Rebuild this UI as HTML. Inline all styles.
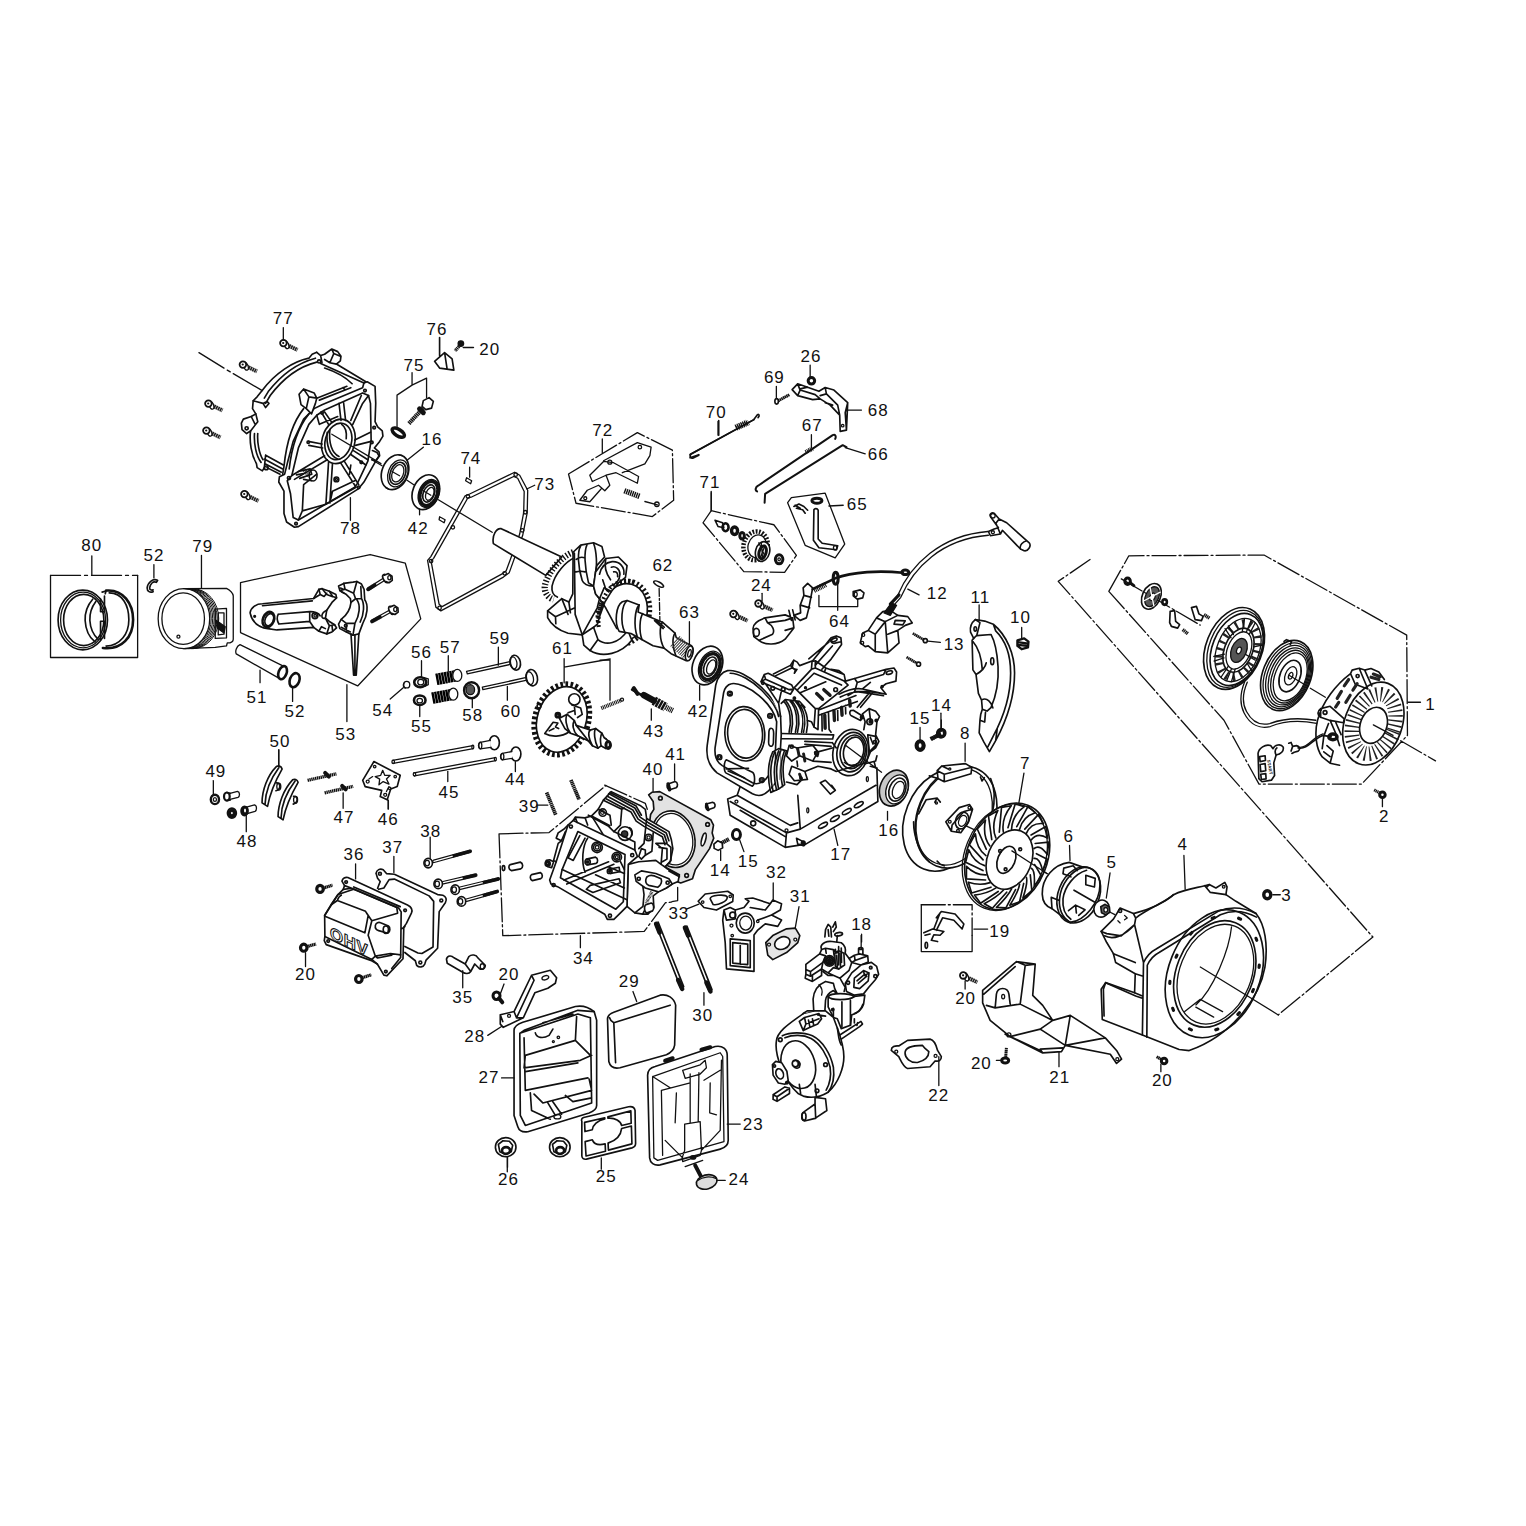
<!DOCTYPE html>
<html><head><meta charset="utf-8"><title>Engine parts diagram</title>
<style>
html,body{margin:0;padding:0;background:#fff}
body{width:1526px;height:1526px;overflow:hidden}
svg{display:block}
svg *{vector-effect:non-scaling-stroke}
.d{fill:none;stroke:#111;stroke-width:1.3;stroke-linejoin:round;stroke-linecap:round}
.d .w{fill:#fff}
.d .k{fill:#111}
.d .t{stroke-width:0.8}
.d .b{stroke-width:1.65}
.d .g{fill:#555}
.d .n{vector-effect:none}
svg{font-size:17px}
text{font-family:"Liberation Sans",sans-serif;letter-spacing:0.06em;fill:#111;stroke:none;text-anchor:middle}
</style></head><body>
<svg width="1526" height="1526" viewBox="0 0 1526 1526">
<defs>
<g id="bolt"><line x1="3" y1="1.4" x2="13.5" y2="6.4" stroke-width="4" stroke-dasharray="1.7 0.5" stroke-linecap="butt" stroke="#222"/><ellipse cx="2.2" cy="1" rx="2.2" ry="4.4" transform="rotate(-25 2.2 1)" fill="#fff" stroke-width="1.3"/><circle cx="-0.6" cy="-0.4" r="3.3" fill="#fff" stroke-width="1.8"/><circle cx="-0.8" cy="-0.5" r="1.1" fill="#111" stroke="none"/></g>

</defs>
<g class="d">
<use href="#bolt" x="284" y="343.5"/>
<use href="#bolt" x="243.5" y="365"/>
<use href="#bolt" x="209" y="404"/>
<use href="#bolt" x="207" y="431"/>
<use href="#bolt" x="245" y="494.5"/>
<g transform="translate(40,290) scale(0.25033)" style="font-size:67.91px">
<text x="972" y="135">77</text><text x="1240" y="975">78</text><text x="207" y="1043">80</text><text x="455" y="1082">52</text><text x="650" y="1048">79</text>
<path d="M972,150 L972,200 M1240,830 L1240,920"/>
<!-- axis line -->
<path d="M635,250 L735,312 M748,320 L760,327 M772,334 L888,402"/>
</g>
<g transform="translate(40,290) scale(0.25033)" style="font-size:67.91px">
<!-- rings box -->
<path d="M42,1140 L42,1468 L390,1468 L390,1140" />
<path d="M42,1140 L390,1140" stroke-dasharray="30 4 3 4"/>
<path d="M207,1062 L207,1140 M455,1097 L455,1150 M645,1060 L645,1190"/>
<!-- clip 52 -->
<path d="M470,1160 C450,1150 430,1170 428,1190 C428,1205 440,1210 452,1205 M470,1160 L465,1168 C452,1160 440,1175 438,1190 C438,1198 445,1200 452,1198" class="b"/>
<!-- piston -->
<ellipse cx="575" cy="1313" rx="103" ry="120"/><ellipse cx="572" cy="1313" rx="85" ry="103"/>
<path d="M581,1193 A103,120 0 0 1 581,1433 M587,1193 A103,120 0 0 1 587,1433 M593,1193 A103,120 0 0 1 593,1433 M599,1193 A103,120 0 0 1 599,1433 M605,1193 A103,120 0 0 1 605,1433 M611,1193 A103,120 0 0 1 611,1433" stroke-width="1"/>
<path d="M575,1193 L745,1192 C760,1200 770,1210 772,1222 L772,1395 C772,1405 760,1410 748,1410 L745,1422 L700,1428 L575,1433 M700,1275 L745,1272 L745,1390 L700,1392 Z M712,1290 L735,1290 L735,1375 L712,1378 Z"/>
<path d="M705,1320 L740,1345 L735,1370 L708,1350 Z" class="k"/>
<circle cx="553" cy="1385" r="6"/>
</g>
<g transform="translate(230,540) scale(0.25033)" style="font-size:67.91px">
<text x="108" y="650">51</text><text x="260" y="708">52</text><text x="462" y="798">53</text><text x="610" y="703">54</text><text x="765" y="765">55</text><text x="765" y="470">56</text><text x="880" y="450">57</text><text x="970" y="722">58</text><text x="1078" y="415">59</text><text x="1122" y="708">60</text><text x="1328" y="455">61</text><text x="200" y="828">50</text><text x="1140" y="980">44</text><text x="875" y="1032">45</text><text x="632" y="1138">46</text><text x="455" y="1130">47</text><text x="68" y="1228">48</text><text x="1195" y="1088">39</text><text x="802" y="1185">38</text><text x="650" y="1252">37</text><text x="495" y="1280">36</text>
<!-- con rod box -->
<path d="M42,170 L560,58 L700,92 L762,315 L510,583 L42,370 Z M467,578 L467,725"/>
<!-- pin 51 -->
<path d="M40,418 L215,505 M25,455 L195,552 M40,418 C25,425 20,445 25,455 M120,520 L120,570 M250,590 L250,645 M640,635 L692,590"/>
<ellipse cx="210" cy="530" rx="16" ry="27" transform="rotate(20 210 530)" stroke-width="2.6"/>
<ellipse cx="258" cy="560" rx="19" ry="29" transform="rotate(20 258 560)" stroke-width="2.6"/>
<!-- 54 55 56 -->
<ellipse cx="706" cy="578" rx="12" ry="13"/><path d="M695,572 C690,580 692,588 700,592"/>
<ellipse cx="760" cy="568" rx="24" ry="20" stroke-width="2.6"/><ellipse cx="762" cy="568" rx="12" ry="11"/><path d="M765,482 L765,545 M775,550 L792,555 L792,578 L778,585"/>
<ellipse cx="758" cy="640" rx="23" ry="19" stroke-width="2.6"/><ellipse cx="758" cy="642" rx="11" ry="9"/><path d="M758,662 L758,705"/>
<!-- springs 57 -->
<path d="M824,557 L905,542 M808,632 L888,617" class="n" stroke-width="46" stroke-dasharray="9.6 1.6" stroke-linecap="butt" stroke="#000"/>
<ellipse cx="908" cy="541" rx="18" ry="24" class="w"/><ellipse cx="892" cy="616" rx="18" ry="24" class="w"/>
<path d="M872,462 L872,525"/>
<!-- 58 -->
<ellipse cx="965" cy="600" rx="30" ry="32" stroke-width="2.4"/><ellipse cx="960" cy="598" rx="17" ry="20" class="g"/><path d="M968,632 L968,670"/>
<!-- valves -->
<path d="M945,525 L1118,486 M948,535 L1120,497 M945,525 L948,535 M1008,588 L1180,550 M1010,598 L1182,561 M1008,588 L1010,598 M1072,428 L1072,500 M1108,585 L1108,640" />
<ellipse cx="1140" cy="490" rx="20" ry="30" transform="rotate(-12 1140 490)" class="b"/><ellipse cx="1132" cy="491" rx="14" ry="24" transform="rotate(-12 1132 491)"/>
<ellipse cx="1206" cy="550" rx="22" ry="33" transform="rotate(-12 1206 550)" class="b"/><ellipse cx="1197" cy="552" rx="15" ry="26" transform="rotate(-12 1197 552)"/>
<!-- pushrods 45 -->
<path d="M650,880 L970,821 M652,892 L972,833 M735,930 L1060,869 M737,942 L1062,881 M870,918 L870,965 M1140,885 L1140,925" />
<ellipse cx="652" cy="886" rx="5" ry="7"/><ellipse cx="737" cy="936" rx="5" ry="7"/><ellipse cx="970" cy="827" rx="4" ry="7"/><ellipse cx="1060" cy="875" rx="4" ry="7"/>
<!-- lifters 44 -->
<ellipse cx="1056" cy="810" rx="20" ry="28" class="b"/><path d="M1040,800 L1000,808 C990,812 990,830 1000,834 L1042,828" class="w"/><ellipse cx="1000" cy="821" rx="6" ry="13"/>
<ellipse cx="1142" cy="855" rx="20" ry="28" class="b"/><path d="M1126,845 L1088,852 C1078,856 1078,874 1088,878 L1128,872" class="w"/><ellipse cx="1088" cy="865" rx="6" ry="13"/>
<!-- plate 46 -->
<path d="M575,885 L680,940 L668,985 L642,995 L628,1038 L600,1025 L606,1000 L540,985 L530,960 Z M632,1040 L632,1075" class="b"/>
<path d="M610,920 L618,940 L640,940 L625,955 L635,975 L612,965 L595,978 L598,955 L580,945 L602,940 Z M555,955 L570,945 M625,1005 L635,985"/>
<circle cx="578" cy="905" r="5"/><circle cx="660" cy="945" r="5"/><circle cx="550" cy="965" r="6"/><circle cx="620" cy="1018" r="6"/><circle cx="638" cy="992" r="5"/>
<!-- studs 47 -->
<path d="M310,960 L425,934 M378,1010 L492,984" class="n" stroke-width="13.2" stroke-dasharray="5.6 2" stroke-linecap="butt"/>
<path d="M380,930 L395,945 M448,982 L462,996" stroke-width="4"/><path d="M452,1010 L452,1072"/>
<!-- rocker arms 50 -->
<path d="M185,905 C150,940 128,1000 128,1050 L150,1064 C160,1010 182,960 208,915 C205,902 192,900 185,905 Z M195,910 C165,950 142,1005 140,1055 M250,958 C215,995 192,1055 192,1105 L212,1118 C222,1065 245,1015 272,968 C268,956 258,954 250,958 Z M260,963 C228,1005 205,1060 204,1110 M195,838 L195,905" class="b"/>
<ellipse cx="195" cy="985" rx="8" ry="14"/><ellipse cx="262" cy="1038" rx="8" ry="14"/>
<!-- 48 -->
<path d="M62,1068 L98,1058 C108,1060 108,1080 100,1084 L65,1094 M65,1100 L65,1165 M0,1012 L30,1004 C40,1006 40,1024 32,1028 L0,1036"/>
<ellipse cx="60" cy="1081" rx="9" ry="13" stroke-width="2.5"/>
<ellipse cx="8" cy="1092" rx="9" ry="12" stroke-width="2.5"/>
</g>
<g transform="translate(372,310) scale(0.25033)" style="font-size:67.91px">
<text x="260" y="98">76</text><text x="470" y="178">20</text><text x="168" y="245">75</text><text x="240" y="540">16</text><text x="395" y="617">74</text><text x="185" y="893">42</text><text x="690" y="718">73</text><text x="922" y="502">72</text><text x="1375" y="430">70</text><text x="1350" y="713">71</text><text x="1162" y="1042">62</text><text x="1268" y="1232">63</text>
<!-- 76 -->
<path d="M250,205 L290,170 L320,195 L327,240 L270,232 Z M290,170 L300,235 M270,110 L270,182 M365,150 L405,150" class="b"/>
<path d="M352,140 L332,163" class="n" stroke-width="13.6" stroke-dasharray="5.2 2" stroke-linecap="butt"/><circle cx="355" cy="134" r="11" class="k"/>
<!-- 75 -->
<path d="M160,250 L160,300 L218,272 L218,350 M160,300 L100,340 L100,465 M205,548 L140,600 M190,795 L190,818 M390,628 L390,668"/>
<path d="M208,388 L146,455" class="n" stroke-width="16.8" stroke-dasharray="5.6 2" stroke-linecap="butt"/>
<path d="M205,362 L228,350 L245,365 L238,392 L215,398 L200,385 Z" class="w b"/><path d="M190,395 L205,410" stroke-width="5"/>
<ellipse cx="105" cy="490" rx="28" ry="13" transform="rotate(32 105 490)" stroke-width="3.5"/>
<!-- axis -->
<path d="M0,598 L40,622 M80,645 L110,662 M140,680 L170,700 M205,722 L235,740 M265,758 L480,888"/>
<!-- bearing 16 -->
<g transform="rotate(22 92 648)"><ellipse cx="92" cy="648" rx="52" ry="72" class="b"/><ellipse cx="104" cy="648" rx="38" ry="56"/><ellipse cx="104" cy="648" rx="30" ry="46" class="b"/><ellipse cx="104" cy="648" rx="22" ry="36"/><path d="M80,578 L92,576 M80,718 L92,720"/></g>
<!-- bearing 42 -->
<g transform="rotate(22 215 728)"><ellipse cx="215" cy="728" rx="52" ry="72" class="b"/><ellipse cx="228" cy="728" rx="40" ry="58"/><ellipse cx="228" cy="728" rx="33" ry="50" class="n" stroke-width="14" stroke-dasharray="8.8 6"/><ellipse cx="228" cy="728" rx="22" ry="36" class="b"/><ellipse cx="232" cy="728" rx="15" ry="27"/></g>
<!-- pins 74 -->
<path d="M378,670 L398,682 L394,694 L374,682 Z M270,826 L292,838 L288,850 L268,838 Z"/>
<!-- gasket 73 -->
<path d="M570,648 L590,660 L622,720 L620,810 L602,900 L548,1050 L525,1067 L275,1202 L255,1187 L222,1000 L235,985 L372,742 L390,735 Z M566,665 L582,672 L608,725 L606,808 L590,895 L536,1042 L518,1055 L280,1185 L268,1175 L236,1003 L246,992 L382,752 L396,748 Z M618,715 L650,700" />
<circle cx="574" cy="658" r="7"/><circle cx="383" cy="745" r="7"/><circle cx="323" cy="868" r="7"/><circle cx="236" cy="1003" r="7"/><circle cx="270" cy="1190" r="7"/><circle cx="530" cy="1052" r="7"/><circle cx="600" cy="880" r="7"/><circle cx="612" cy="808" r="7"/>
<!-- 62 -->
<ellipse cx="1145" cy="1095" rx="22" ry="8" transform="rotate(28 1145 1095)" class="b"/>
<path d="M1147,1112 L1150,1240" stroke-dasharray="8 2 2 2"/><path d="M1268,1245 L1268,1340"/>
<!-- bearing right 42 -->
<g transform="rotate(22 1340 1420)"><ellipse cx="1340" cy="1420" rx="58" ry="80" class="b"/><ellipse cx="1352" cy="1420" rx="44" ry="64"/><ellipse cx="1352" cy="1420" rx="36" ry="54" class="n" stroke-width="14" stroke-dasharray="8.8 6"/><ellipse cx="1352" cy="1420" rx="24" ry="40" class="b"/><ellipse cx="1356" cy="1420" rx="16" ry="30"/></g>
<!-- box 72 -->
<path d="M785,655 L1060,490 L1200,560 L1205,760 L1120,825 L815,772 Z" stroke-dasharray="24 3 2 3"/>
<path d="M920,515 L920,570 M925,602 L1060,530 L1115,548 L1110,582 L1090,615 L1000,650 M870,660 L925,605 L965,610 L1065,665 L1060,692 L1040,682 L975,650 L935,660 L950,700 L930,722 L905,700 L860,720 L830,760 L870,766 L915,715 M870,660 L880,685 L935,660 M1090,765 L1140,778"/>
<circle cx="1070" cy="548" r="7"/><circle cx="950" cy="608" r="8"/><circle cx="852" cy="752" r="6"/><circle cx="1138" cy="776" r="9"/>
<path d="M1008,722 L1070,745" class="n" stroke-width="22" stroke-dasharray="5.6 2.8" stroke-linecap="butt"/>
<!-- 70 -->
<path d="M1526,438 L1275,575 C1265,585 1275,595 1285,590 L1305,580 M1385,442 L1385,500" class="b"/>
<path d="M1452,468 L1498,448" class="n" stroke-width="20" stroke-dasharray="4.8 3.2" stroke-linecap="butt"/>
<path d="M1355,725 L1355,800"/>
</g>
<g transform="translate(690,330) scale(0.25033)" style="font-size:67.91px">
<text x="483" y="128">26</text><text x="337" y="210">69</text><text x="752" y="343">68</text><text x="488" y="405">67</text><text x="752" y="520">66</text><text x="668" y="718">65</text><text x="285" y="1043">24</text><text x="597" y="1185">64</text><text x="988" y="1075">12</text><text x="1160" y="1090">11</text><text x="1320" y="1170">10</text><text x="1055" y="1278">13</text><text x="1005" y="1520">14</text>
<!-- 26 -->
<circle cx="485" cy="203" r="13" stroke-width="3"/><path d="M480,140 L480,188 M345,225 L345,270 M632,320 L685,320 M485,418 L485,470 M620,470 L700,495 M112,365 L112,420 M85,650 L85,722 M555,703 L612,700"/>
<!-- 69 -->
<path d="M352,283 L398,258" class="n" stroke-width="12" stroke-dasharray="6 1.5" stroke-linecap="butt"/><ellipse cx="346" cy="285" rx="7" ry="11" class="w b"/>
<!-- 68 -->
<path d="M408,238 L430,215 L515,245 L540,230 L575,240 L630,290 L625,400 L600,405 L598,340 L560,300 L520,275 L490,278 L430,262 Z M430,215 L440,240 L430,262 M440,240 L500,258 L520,275 M540,230 L545,255 L590,300 L598,340 M545,255 L520,262 M630,290 L620,330 L625,400 M440,235 L470,228 M540,290 L570,300" class="b"/>
<circle cx="610" cy="382" r="5"/>
<!-- 67 -->
<path d="M268,645 C258,640 262,628 272,622 L570,420 C580,415 585,425 580,435 M298,690 L300,655 L610,460 L625,468" stroke-width="2"/>
<path d="M462,488 L492,472" class="n" stroke-width="18" stroke-dasharray="4 3" stroke-linecap="butt"/>
<!-- 70 end -->
<path d="M0,497 L255,358 L270,338 C275,335 280,342 272,350 M0,510 L35,498" class="b"/>
<path d="M185,392 L235,370" class="n" stroke-width="20" stroke-dasharray="4.5 3" stroke-linecap="butt"/>
<!-- 71 box -->
<path d="M52,770 L85,722 L335,778 L425,900 L378,968 L215,965 Z" stroke-dasharray="24 3 2 3"/>
<path d="M100,760 L130,770 L135,790 L112,785 Z" class="b"/><ellipse cx="142" cy="788" rx="12" ry="16" stroke-width="2.6"/><ellipse cx="178" cy="802" rx="12" ry="15" stroke-width="3.4"/><ellipse cx="208" cy="822" rx="9" ry="13" stroke-width="3"/>
<ellipse cx="262" cy="862" rx="48" ry="58" transform="rotate(15 262 862)" class="n" stroke-width="18" stroke-dasharray="7 6" stroke-linecap="butt"/>
<ellipse cx="268" cy="864" rx="36" ry="46" transform="rotate(15 268 864)"/>
<ellipse cx="290" cy="885" rx="28" ry="40" transform="rotate(15 290 885)" class="w b"/><ellipse cx="290" cy="888" rx="14" ry="26" transform="rotate(15 290 888)" stroke-width="3"/>
<path d="M275,850 L300,905 M285,850 L290,915 M300,860 L280,912"/>
<ellipse cx="356" cy="916" rx="15" ry="18" stroke-width="3"/><ellipse cx="356" cy="916" rx="5" ry="6"/>
<!-- 65 box -->
<path d="M390,690 L405,670 L540,652 L618,855 L580,910 L460,860 Z"/>
<path d="M495,718 L493,840 L515,870 L585,878 L590,862 L528,852 L512,835 L512,720 C508,712 498,712 495,718 Z" class="b"/><ellipse cx="580" cy="870" rx="7" ry="9"/>
<ellipse cx="507" cy="682" rx="20" ry="10" stroke-width="3"/><path d="M415,705 L435,695 L455,705 L470,720 M425,712 L450,718 L460,732 M420,700 L440,712" class="b"/>
<!-- 24 bolts -->
<use href="#bolt" transform="translate(276,1094) scale(4)"/>
<use href="#bolt" transform="translate(176,1136) scale(4)"/>
<path d="M288,1052 L288,1082"/>
<!-- breather cap -->
<path d="M252,1195 C250,1175 270,1160 300,1150 L380,1138 L410,1150 L415,1190 L380,1235 C350,1260 300,1260 275,1240 L255,1225 Z M300,1150 L310,1170 L380,1160 L410,1150 M310,1170 C330,1180 340,1200 330,1215 L275,1240 M415,1190 L380,1200 M395,1120 L405,1160 M410,1118 L420,1158" class="b"/>
<ellipse cx="265" cy="1208" rx="12" ry="16" class="b"/>
<path d="M415,1140 L440,1160 L465,1150 L475,1110 L490,1030 L470,1012 L452,1030 L455,1060 L440,1100 L442,1130 Z M445,1100 L478,1110 M455,1060 L485,1068" class="b"/>
<!-- 64 wire -->
<path d="M490,1035 L580,992 C650,965 760,960 850,970" stroke-width="2.6"/>
<path d="M495,1040 L545,1015" class="n" stroke-width="22" stroke-dasharray="4 3" stroke-linecap="butt"/>
<ellipse cx="582" cy="992" rx="10" ry="24" stroke-width="3"/><ellipse cx="860" cy="968" rx="14" ry="9" stroke-width="3"/>
<path d="M515,1060 L515,1105 L670,1105 L670,1075 M590,1010 L590,1120"/>
<path d="M652,1045 L680,1038 L695,1050 L690,1070 L668,1075 L652,1062 Z" class="b"/><ellipse cx="662" cy="1056" rx="6" ry="9"/>
<!-- 12 coil -->
<path d="M800,1095 L830,1060 C880,940 1000,820 1190,805 M812,1102 L842,1068 C892,950 1005,835 1192,820 M870,1035 L915,1058"/>
<path d="M800,1095 L835,1058" stroke-width="3"/>
<path d="M1200,745 C1195,735 1205,728 1215,732 L1235,755 L1265,770 L1355,850 C1365,862 1350,885 1335,882 L1320,875 L1248,800 L1240,815 L1200,822 L1192,805 L1215,795 L1232,790 Z M1235,755 L1222,772 L1240,815 M1320,875 C1315,860 1330,845 1345,842" class="b"/>
<circle cx="1210" cy="742" r="9"/><circle cx="1210" cy="808" r="6"/>
<path d="M745,1150 L770,1125 L800,1120 L830,1140 L870,1145 L888,1170 L860,1180 L830,1200 L835,1250 L790,1290 L740,1285 L712,1262 L700,1265 L680,1250 L690,1210 L712,1200 Z M745,1150 L780,1165 L830,1140 M780,1165 L790,1290 M712,1200 L740,1215 L740,1285 M740,1215 L780,1165 M830,1200 L790,1215 M820,1160 L860,1162 L850,1178 L815,1175 Z" class="b"/>
<path d="M775,1130 L805,1090 L825,1100 L800,1140 Z" class="k"/>
<circle cx="692" cy="1218" r="6"/><circle cx="688" cy="1250" r="6"/>
<!-- 13 bolts -->
<path d="M890,1212 L935,1238 M865,1307 L910,1333" class="n" stroke-width="11" stroke-dasharray="6 1.5" stroke-linecap="butt"/><circle cx="940" cy="1241" r="8" class="w b"/><circle cx="913" cy="1335" r="8" class="w b"/>
<path d="M950,1243 L1000,1248 M1155,1098 L1155,1160 M1325,1188 L1325,1235"/>
<!-- 10 -->
<path d="M1308,1240 L1335,1232 L1352,1245 L1350,1268 L1325,1275 L1308,1262 Z M1315,1248 L1345,1252 M1312,1258 L1345,1262" stroke-width="2.4"/>
</g>
<g transform="translate(1060,520) scale(0.25033)" style="font-size:67.91px">
<text x="1480" y="758">1</text><text x="1295" y="1208">2</text><text x="905" y="1520">3</text><text x="490" y="1320">4</text><text x="207" y="1392">5</text><text x="35" y="1285">6</text>
<path d="M195,285 L275,143 L815,140 L1385,460 L1388,860 L1205,1055 L795,1055 L655,800 Z M120,158 L-7,245 L1250,1666 L872,1977 M245,235 L560,420 M1000,672 L1060,708 M1250,818 L1500,962" stroke-dasharray="24 3 2 3"/>
<path d="M1390,728 L1440,728 M1288,1112 L1288,1145 M850,1497 L880,1497 M495,1340 L500,1475 M200,1410 L185,1510 M38,1300 L40,1360 M700,512 L780,560 M915,620 L990,665 M1250,818 L1330,865"/>
<!-- small screw + ratchet -->
<ellipse cx="270" cy="245" rx="11" ry="13" stroke-width="3"/><path d="M280,250 L295,262"  stroke-width="3"/>
<g transform="rotate(25 365 305)"><ellipse cx="365" cy="305" rx="36" ry="54" class="b"/><ellipse cx="368" cy="305" rx="26" ry="42" class="g"/><ellipse cx="370" cy="305" rx="10" ry="16" class="w"/><path d="M345,275 L390,335 M345,335 L390,275" stroke="#fff"/></g>
<ellipse cx="418" cy="328" rx="9" ry="11" stroke-width="2.6"/>
<path d="M440,365 L458,362 L462,405 L478,418 L470,432 L445,425 L438,410 Z M525,350 L545,345 L555,375 L572,385 L565,402 L540,398 Z" class="b"/>
<path d="M490,438 L512,455 M575,378 L597,392" class="n" stroke-width="14" stroke-dasharray="5 2" stroke-linecap="butt"/>
<!-- pulley -->
<g transform="rotate(22 700 515)">
<ellipse cx="695" cy="515" rx="112" ry="170" class="b"/><ellipse cx="700" cy="515" rx="104" ry="160"/><ellipse cx="706" cy="515" rx="97" ry="150" class="b"/><ellipse cx="712" cy="515" rx="84" ry="132"/>
<ellipse cx="714" cy="515" rx="56" ry="92" class="b"/><ellipse cx="716" cy="515" rx="46" ry="78"/><ellipse cx="714" cy="515" rx="70" ry="112" class="n" stroke-width="34" stroke-dasharray="9 20" stroke-linecap="butt" stroke="#222"/><ellipse cx="716" cy="515" rx="30" ry="50" class="g"/><ellipse cx="716" cy="515" rx="9" ry="14" class="w"/>
<path d="M716,437 L716,385 M730,440 L735,388 M716,593 L716,645 M730,590 L735,642 M668,480 L632,455 M672,465 L640,440 M668,550 L632,575 M672,565 L640,592 M765,480 L795,460 M765,550 L795,572 M700,440 L690,392 M700,590 L690,640"/>
</g>
<!-- spring -->
<g transform="rotate(22 915 625)">
<ellipse cx="905" cy="625" rx="96" ry="146" class="b"/><ellipse cx="908" cy="625" rx="89" ry="137"/><ellipse cx="911" cy="625" rx="82" ry="128"/><ellipse cx="914" cy="625" rx="75" ry="119"/><ellipse cx="917" cy="625" rx="68" ry="110"/><ellipse cx="920" cy="625" rx="61" ry="100"/>
<ellipse cx="918" cy="622" rx="40" ry="66" class="b"/><ellipse cx="920" cy="620" rx="22" ry="38"/><ellipse cx="920" cy="620" rx="8" ry="14"/>
</g>
<path d="M895,485 L905,478 L925,485 L920,498" class="b"/>
<!-- rope -->
<path d="M738,645 C720,690 715,730 735,770 C760,820 800,835 840,825 C900,800 960,800 1025,812 M748,648 C730,690 726,730 745,765 C768,808 800,822 838,813 C900,790 960,790 1022,800"/>
<!-- 2 bolt, 3 nut -->
<path d="M1255,1078 L1280,1092" class="n" stroke-width="12" stroke-dasharray="5 2" stroke-linecap="butt"/><circle cx="1288" cy="1098" r="11" stroke-width="3"/>
<ellipse cx="828" cy="1497" rx="14" ry="16" stroke-width="3.4"/>
</g>
<g transform="translate(880,720) scale(0.25033)" style="font-size:67.91px">
<text x="340" y="75">8</text><text x="580" y="195">7</text><text x="35" y="462">16</text><text x="478" y="868">19</text><text x="342" y="1135">20</text><text x="405" y="1395">20</text><text x="1128" y="1462">20</text><text x="718" y="1452">21</text><text x="235" y="1520">22</text><text x="160" y="15">15</text>
<path d="M340,92 L340,165 M575,212 L555,330 M30,365 L30,400 M375,835 L430,835 M340,1042 L340,1075 M465,1360 L490,1360 M1122,1375 L1122,1405 M715,1325 L715,1385 M235,1345 L235,1460 M160,30 L160,85 M245,0 L245,45"/>
<!-- 15,14 -->
<ellipse cx="160" cy="102" rx="14" ry="17" stroke-width="4"/>
<path d="M205,76 L245,55" class="n" stroke-width="16" stroke-dasharray="6 1.5" stroke-linecap="butt"/><ellipse cx="248" cy="52" rx="12" ry="14" stroke-width="3"/>
<!-- seal 16 -->
<g transform="rotate(22 62 275)"><ellipse cx="55" cy="275" rx="55" ry="74" class="b" fill="#c8c8c8"/><ellipse cx="68" cy="275" rx="42" ry="60" class="w"/><ellipse cx="70" cy="275" rx="32" ry="48" class="b"/><ellipse cx="74" cy="275" rx="22" ry="36"/></g>
<!-- box 19 -->
<path d="M165,738 L165,925 L368,925 L368,860"/><path d="M165,738 L368,738 L368,860" stroke-dasharray="24 3 2 3"/>
<path d="M225,790 L245,765 L300,775 L335,815 L328,835 L295,800 L250,790 L225,840 M240,770 L215,835 M175,850 L210,835 L255,845 L240,860 L215,858 L205,880 L230,885 M180,860 L200,855" class="b"/><ellipse cx="185" cy="900" rx="5" ry="12" class="b"/>
<!-- 21 shroud -->
<path d="M410,1080 L545,965 L620,975 L610,1100 L650,1140 L690,1200 L760,1180 L900,1270 L945,1320 L965,1355 L945,1372 L920,1335 L740,1300 L725,1325 L650,1330 L520,1265 L440,1200 L410,1130 Z M545,965 L580,980 L560,1135 L460,1150 L425,1140 M560,1135 L690,1200 L640,1235 L740,1300 L760,1180 M640,1235 L520,1265 M580,980 L620,975 M415,1095 L540,985 M650,1330 L640,1315 L730,1310 M460,1150 L465,1095 C470,1065 510,1065 515,1095 L520,1135 M740,1300 L900,1270 M500,1255 L640,1320" class="b"/>
<ellipse cx="492" cy="1105" rx="6" ry="9"/><circle cx="948" cy="1355" r="6"/><circle cx="515" cy="1258" r="8"/>
<!-- 22 gasket -->
<path d="M45,1320 C45,1305 60,1300 75,1302 L110,1280 L200,1275 C215,1278 225,1300 230,1320 L245,1345 C245,1360 235,1365 220,1362 L200,1385 L110,1392 C95,1388 85,1365 75,1345 Z M100,1330 C100,1310 130,1300 170,1300 L180,1312 L195,1325 C195,1345 180,1360 150,1368 C120,1370 100,1350 100,1330 Z" class="b"/>
<circle cx="65" cy="1325" r="6"/><circle cx="222" cy="1342" r="6"/>
<!-- 20 bolts -->
<use href="#bolt" transform="translate(335,1022) scale(4)"/>
<path d="M505,1310 L502,1348" class="n" stroke-width="12" stroke-dasharray="6 1.5" stroke-linecap="butt"/><ellipse cx="500" cy="1360" rx="14" ry="10" stroke-width="3"/>
<path d="M1105,1345 L1128,1358" class="n" stroke-width="12" stroke-dasharray="6 1.5" stroke-linecap="butt"/><circle cx="1135" cy="1362" r="11" stroke-width="3"/>
</g>
<g transform="translate(600,560) scale(0.25033)" style="font-size:67.91px">
<text x="392" y="628">42</text><text x="215" y="708">43</text><text x="302" y="800">41</text><text x="212" y="858">40</text><text x="480" y="1262">14</text><text x="592" y="1225">15</text><text x="962" y="1200">17</text><text x="705" y="1272">32</text><text x="800" y="1368">31</text><text x="315" y="1435">33</text><text x="1045" y="1478">18</text>
<path d="M398,500 L398,560 M205,595 L205,640 M298,815 L298,880 M212,872 L212,925 M482,1160 L482,1200 M555,1110 L575,1165 M935,1075 L950,1140 M692,1290 L692,1360 M795,1385 L780,1470 M345,1395 L395,1375 M1045,1495 L1045,1526 M40,400 L40,560 M0,400 L40,400"/>
<!-- spark plug 43 -->
<path d="M128,518 L175,545" stroke-width="2.5"/><path d="M175,540 L215,562" class="n" stroke-width="26"/><path d="M215,562 L262,588" class="n" stroke-width="36" stroke-dasharray="10 3" stroke-linecap="butt"/><path d="M262,588 L292,603" class="n" stroke-width="22" stroke-dasharray="4 3" stroke-linecap="butt"/>
<path d="M135,512 L150,535" stroke-width="4"/>
<!-- small spring left -->
<path d="M5,592 L85,560" class="n" stroke-width="16" stroke-dasharray="4 3" stroke-linecap="butt"/><circle cx="88" cy="558" r="6"/>
<path d="M0,700 L25,715 L35,740 L15,748 L0,735" class="b"/>
<!-- pins 41 -->
<path d="M272,895 L300,885 C312,888 312,905 304,910 L278,918 C266,915 266,900 272,895 Z M425,975 L450,968 C462,970 462,985 455,990 L432,998 C420,996 420,980 425,975 Z" class="b"/>
<path d="M272,895 L278,918" class="n" stroke-width="14"/><path d="M425,975 L432,998" class="n" stroke-width="12"/>
<!-- 14,15 lower-left -->
<path d="M478,1135 L515,1115" class="n" stroke-width="16" stroke-dasharray="6 1.5" stroke-linecap="butt"/><path d="M455,1135 L470,1122 L488,1130 L490,1150 L472,1160 L456,1152 Z" class="w b"/>
<ellipse cx="545" cy="1097" rx="16" ry="20" stroke-width="3"/>
<!-- 14,15 right -->
<path d="M1320,715 L1355,698" class="n" stroke-width="16" stroke-dasharray="6 1.5" stroke-linecap="butt"/><ellipse cx="1362" cy="692" rx="14" ry="16" stroke-width="3"/>
<ellipse cx="1280" cy="742" rx="14" ry="18" stroke-width="3"/>
<path d="M1362,612 L1362,675"/>
<!-- base -->
<path d="M510,955 L520,1020 L740,1148 L822,1135 L1110,965 L1106,830 M510,955 L548,940 L560,905 M740,1148 L745,1090 L520,965 M745,1090 L800,1075 L790,940 M800,1075 L1102,900 M548,940 L760,1060 L790,1050 M560,1000 L740,1105 M880,890 L900,880 L940,920 L920,935 Z M940,920 L925,900" class="b"/>
<g transform="rotate(-30 960 1020)"><ellipse cx="880" cy="1020" rx="20" ry="8" class="b"/><ellipse cx="935" cy="1020" rx="20" ry="8" class="b"/><ellipse cx="990" cy="1020" rx="20" ry="8" class="b"/><ellipse cx="1045" cy="1020" rx="20" ry="8" class="b"/></g>
<ellipse cx="830" cy="1000" rx="4" ry="10"/><ellipse cx="1068" cy="875" rx="4" ry="10"/><circle cx="612" cy="1052" r="10" class="b"/><circle cx="745" cy="1080" r="6"/><circle cx="545" cy="965" r="6"/>
<path d="M785,1112 L812,1125 L815,1140 L790,1135 Z" class="w b"/><ellipse cx="812" cy="1132" rx="8" ry="10" class="k"/>
</g>
<g transform="translate(290,780) scale(0.25033)" style="font-size:67.91px">
<text x="62" y="800">20</text><text x="690" y="890">35</text><text x="875" y="800">20</text><text x="1172" y="735">34</text><text x="738" y="1048">28</text><text x="1355" y="828">29</text><text x="795" y="1212">27</text>
<path d="M262,335 L262,395 M415,305 L415,370 M560,228 L560,315 M985,100 L1030,100 M62,690 L62,745 M690,762 L690,830 M855,815 L840,855 M1160,622 L1160,670 M790,1020 L845,985 M1370,845 L1385,885 M845,1190 L895,1190"/>
<!-- bolts 38 -->
<path d="M575,325 L720,285 M612,410 L742,380 M680,432 L832,395 M705,480 L828,445" stroke-width="3.6"/><path d="M575,325 L650,304 M612,410 L690,392 M680,432 L770,410 M705,480 L770,462" stroke-width="1.2" stroke="#fff"/>
<path d="M650,304 L720,285 M690,392 L742,380 M770,410 L832,395 M770,462 L828,445" class="n" stroke-width="13" stroke-dasharray="6 1.5" stroke-linecap="butt"/>
<ellipse cx="552" cy="332" rx="17" ry="19" class="w b"/><ellipse cx="592" cy="415" rx="17" ry="19" class="w b"/><ellipse cx="660" cy="438" rx="17" ry="19" class="w b"/><ellipse cx="685" cy="485" rx="17" ry="19" class="w b"/>
<ellipse cx="548" cy="332" rx="9" ry="11"/><ellipse cx="588" cy="415" rx="9" ry="11"/><ellipse cx="656" cy="438" rx="9" ry="11"/><ellipse cx="681" cy="485" rx="9" ry="11"/>
<!-- small bolts 20 -->
<path d="M132,432 L170,420 M66,666 L104,655 M288,790 L325,778" class="n" stroke-width="13" stroke-dasharray="6 1.5" stroke-linecap="butt"/>
<ellipse cx="120" cy="435" rx="13" ry="14" stroke-width="3.2"/><ellipse cx="55" cy="670" rx="13" ry="14" stroke-width="3.2"/><ellipse cx="275" cy="795" rx="13" ry="14" stroke-width="3.2"/>
<!-- tube 35 -->
<path d="M625,715 C630,700 645,700 655,710 L700,735 L715,705 C725,695 745,698 750,710 L780,740 C780,755 765,760 755,752 L738,735 L722,765 C715,775 700,775 690,768 L628,732 Z M700,735 L722,765" class="b"/><ellipse cx="768" cy="745" rx="8" ry="11"/>
<!-- box 34 -->
<path d="M835,215 L1035,210 L1262,22 M835,215 L850,622 L1415,605 L1500,490 L1526,488" stroke-dasharray="24 3 2 3"/>
<!-- pins -->
<path d="M880,338 L920,328 C932,332 932,350 922,355 L885,362 C872,358 872,342 880,338 Z M965,378 L1000,370 C1010,374 1010,390 1002,394 L968,402 C958,398 958,382 965,378 Z" class="b"/><ellipse cx="853" cy="352" rx="5" ry="10" class="b"/>
<!-- studs 39 -->
<path d="M1025,50 L1062,140 M1122,0 L1155,78" class="n" stroke-width="15" stroke-dasharray="6 1.5" stroke-linecap="butt"/>
<!-- 20 mid bolt -->
<ellipse cx="825" cy="862" rx="14" ry="15" stroke-width="3"/><path d="M835,872 L848,888" stroke-width="4"/>
<!-- bracket 28 -->
<path d="M840,938 L895,925 L965,780 L1040,760 L1065,790 L1060,812 L1030,832 L978,850 L932,950 L852,988 L840,975 Z M895,925 L905,950 L932,950 M965,780 L975,800 L905,950 M840,938 L850,965" class="b"/><ellipse cx="1020" cy="790" rx="14" ry="8" transform="rotate(-20 1020 790)"/><circle cx="875" cy="942" r="6"/>
<!-- air cleaner 27 -->
<path d="M895,1000 C895,985 910,975 930,968 L1140,905 C1165,900 1190,905 1215,925 L1225,960 L1225,1300 C1225,1315 1215,1322 1195,1330 L950,1405 C930,1408 915,1400 910,1385 L895,1340 Z" class="b"/>
<path d="M918,1012 L1150,935 L1200,950 L1205,1290 L940,1380 L920,1340 Z M918,1012 L935,1000 L1150,920 L1215,925 M935,1030 L940,1240 M940,1100 L1140,1040 L1145,945 M940,1100 L935,1150 L1160,1120 L1205,1100 M1140,1040 L1200,1100 M940,1165 L1150,1130 M940,1240 L1190,1190 M975,1255 L1010,1290 L1205,1240 L1195,1195 M960,1250 L965,1320 L1040,1355 M1030,1290 L1060,1340 M1050,1285 L1085,1335 M1100,1260 L1130,1285 L1205,1270 M980,1010 C985,1030 1010,1035 1035,1020 L1050,995 M1010,970 L1130,935" class="b"/>
<ellipse cx="1068" cy="1345" rx="14" ry="9"/><circle cx="1072" cy="1028" r="5"/><circle cx="1052" cy="1045" r="4"/>
<path d="M868,1508 L868,1565"/>
</g>
<g transform="translate(560,870) scale(0.25033)" style="font-size:67.91px">
<text x="570" y="603">30</text><text x="772" y="1040">23</text><text x="715" y="1257">24</text><text x="185" y="1247">25</text><text x="-206" y="1258">26</text>
<path d="M575,490 L575,540 M668,1015 L720,1015 M625,1240 L660,1240 M165,1150 L165,1195"/>
<path d="M447,126 L470,122 L470,70" stroke-dasharray="24 3 2 3"/>
<!-- pushrod tubes 30 -->
<path d="M380,212 L482,470 M392,208 L494,466 M495,228 L595,482 M507,224 L607,478" class="b"/>
<path d="M384,215 L398,250 M472,440 L488,475 M499,230 L512,262 M585,450 L601,485" class="n" stroke-width="18"/>
<!-- 33 gasket -->
<path d="M552,125 L580,96 L670,85 L692,100 L690,126 L625,160 L575,150 Z M600,115 C600,100 660,95 668,108 C670,125 630,142 612,138 Z" class="b"/><circle cx="570" cy="128" r="5"/><circle cx="680" cy="105" r="5"/>
<!-- 32 -->
<path d="M655,160 L680,150 L700,160 L735,150 L755,125 L740,115 L770,112 L840,135 L850,120 L885,135 L880,160 L845,180 L885,200 L870,225 L820,215 L790,240 L775,260 L775,405 L665,395 L660,290 L650,200 Z M680,275 L760,282 L760,390 L680,382 Z M690,290 L750,296 L750,378 L690,372 Z M720,292 L720,376 M655,160 L665,200 L700,195 L700,160 M840,135 L820,160 L760,150 M845,180 L790,200" class="b"/>
<ellipse cx="740" cy="212" rx="36" ry="40" class="b"/><ellipse cx="742" cy="212" rx="24" ry="28"/><circle cx="690" cy="180" r="12" class="b"/><circle cx="685" cy="222" r="6"/><circle cx="790" cy="205" r="5"/><circle cx="688" cy="262" r="5"/>
<!-- 31 gasket -->
<path d="M822,290 L850,262 L905,235 L940,232 L958,262 L950,290 L905,330 L850,358 L830,340 Z" class="b" fill="#e4e4e4"/><ellipse cx="888" cy="292" rx="32" ry="24" transform="rotate(-25 888 292)" class="w b"/><circle cx="835" cy="298" r="6" class="w"/><circle cx="940" cy="278" r="6" class="w"/>
<!-- 29 element -->
<path d="M190,600 C188,585 195,575 215,568 L400,500 C430,495 455,510 462,540 L458,700 C455,720 445,730 425,738 L240,790 C215,795 200,785 195,765 Z M215,610 L222,770 M215,610 L440,540 M215,610 C205,605 200,598 198,590" class="b"/>
<!-- 23 cover -->
<path d="M350,820 C350,800 360,790 380,785 L620,705 C650,700 668,715 668,740 L672,1080 C672,1100 660,1110 640,1115 L400,1178 C375,1182 360,1170 358,1150 Z" class="b"/>
<path d="M370,825 L640,730 L650,745 L655,1085 L390,1160 L375,1150 Z M405,880 L410,1140 M405,880 L520,850 M490,800 L560,778 L580,760 L585,790 L560,815 L500,832 Z M520,815 L520,1010 M555,810 L552,1005 M498,1015 L560,1005 L565,1120 L560,1140 L490,1165 L488,1150 L498,1120 Z M420,1080 L490,1150 M565,1120 L640,1040 L645,760 M370,825 L440,870 M465,890 L460,1010 M600,850 L598,970 L625,978 M575,840 L640,800" />
<path d="M420,762 L450,752 M565,718 L600,708" stroke-width="4"/><ellipse cx="532" cy="1148" rx="10" ry="7" class="k"/><path d="M500,1185 L570,1160"/>
<!-- 24 knob -->
<path d="M540,1180 L562,1222" class="n" stroke-width="16"/><ellipse cx="586" cy="1246" rx="42" ry="28" transform="rotate(-15 586 1246)" class="b" fill="#ddd"/><path d="M550,1240 C570,1225 600,1222 622,1232"/>
</g>
<g transform="translate(480,620) scale(0.15727)" style="font-size:108.09px">
<path d="M535,245 L535,400 M535,300 L828,248"/>
<g transform="rotate(18 520 632)">
<ellipse cx="520" cy="632" rx="170" ry="230" class="n" stroke-width="34" stroke-dasharray="17 15" stroke-linecap="butt"/>
<ellipse cx="520" cy="632" rx="155" ry="213" class="b"/>
</g>
<circle cx="600" cy="505" r="36" class="b" stroke-width="3"/><circle cx="375" cy="548" r="12" class="b"/><circle cx="495" cy="605" r="12" stroke-width="3"/>
<path d="M585,540 L640,560 L650,600 L620,620 M600,545 L605,600 M560,590 L600,575" class="b"/>
<path d="M412,722 C450,745 520,745 565,712 M412,722 L465,650 L495,655 L480,680 L500,690 M440,705 L470,690" class="b"/>
<path d="M505,625 L555,600 L600,640 L612,670 L700,700 L735,690 L775,720 L790,750 L825,775 L832,800 L800,818 L770,800 L750,815 L715,800 L690,770 L620,735 L575,720 L540,690 Z" class="w b"/>
<path d="M555,600 C540,620 545,680 575,720 M600,640 C585,660 590,705 620,735 M700,700 C685,715 690,755 715,800 M735,690 C722,710 728,770 750,815 M775,720 C765,740 765,775 770,800 M612,670 L690,770" class="b"/>
<ellipse cx="815" cy="795" rx="14" ry="22" stroke-width="3"/>
</g>
<g transform="translate(180,720) scale(0.15727)" style="font-size:108.09px">
<text x="228" y="360">49</text>
<path d="M212,385 L212,475"/>
<ellipse cx="222" cy="505" rx="26" ry="30" stroke-width="2.4"/><ellipse cx="222" cy="505" rx="10" ry="12"/>
<ellipse cx="330" cy="592" rx="26" ry="30" stroke-width="2.4"/><ellipse cx="330" cy="592" rx="10" ry="12"/>
<ellipse cx="298" cy="487" rx="18" ry="26" stroke-width="2.2"/><path d="M298,461 L318,466 M302,512 L320,508" class="b"/>
<ellipse cx="410" cy="578" rx="20" ry="28" stroke-width="2.2"/>
<!-- rocker arm lumps -->
<path d="M612,400 C640,395 645,440 610,450 M722,485 C750,480 755,525 720,535" class="b"/>
</g>
<g transform="translate(300,850) scale(0.13106)" style="font-size:129.71px">
<!-- gasket 37 -->
<path d="M580,178 C585,150 610,140 635,150 L660,180 L720,185 L1050,340 L1090,345 C1115,355 1122,380 1110,400 L1062,470 L1050,750 L962,840 L952,870 C940,895 910,900 890,880 L880,845 L800,782 M600,300 L640,290 L680,226 L720,222 L985,350 L1020,392 L1015,740 L930,790 L900,786 L800,736 M580,178 L592,215 L612,240 L592,292" class="b"/>
<circle cx="610" cy="182" r="11" class="b"/><circle cx="1078" cy="385" r="11" class="b"/><circle cx="918" cy="858" r="11" class="b"/>
<!-- cover 36 flange -->
<path d="M320,238 C325,215 345,205 365,210 L820,420 C850,435 862,455 850,482 L812,560 L792,590 L786,830 L662,960 L640,955 L590,870 L540,842 L200,722 L185,692 L190,660 L188,500 L290,340 L330,300 L340,272 Z" class="w b"/>
<path d="M395,292 L752,442 L772,472 L768,820 L700,905 M410,282 L765,432 M778,600 L800,585 M340,272 L395,292 L330,300" class="b"/>
<path d="M188,500 L235,420 L290,340 L410,300 L738,438 L745,482 L548,540 L520,650 L575,810 L690,790 L768,800 M235,420 L285,385 L500,468 L520,500 L495,632 L190,505 M190,660 L548,835 L590,870 M548,540 L500,468 M575,810 L592,824 L700,802 M285,385 C290,370 300,350 315,345 M548,835 L575,810" class="b"/>
<path d="M575,575 C580,555 600,548 615,555 L675,580 C690,590 690,625 670,635 L600,615 C580,610 572,595 575,575 Z" class="b"/><ellipse cx="655" cy="608" rx="20" ry="28" class="b"/>
<circle cx="352" cy="245" r="10" class="b"/><circle cx="802" cy="460" r="10" class="b"/><circle cx="655" cy="928" r="10" class="b"/><circle cx="215" cy="695" r="10" class="b"/>
<text x="0" y="0" transform="translate(228,672) skewY(26)" style="font-weight:bold;font-size:128px;letter-spacing:6px;text-anchor:start;fill:#fff;stroke:#111;stroke-width:1.1px">OHV</text>
</g>
<g transform="translate(480,520) scale(0.15727)" style="font-size:108.09px">
<!-- left shaft -->
<path d="M135,55 L520,235 L418,352 L85,150 C75,95 105,50 135,55 Z" class="w b"/>
<!-- small gear -->
<path d="M592,205 C520,230 430,330 412,420 C408,460 430,495 468,505" class="n" stroke-width="40" stroke-dasharray="9 12" stroke-linecap="butt"/>
<path d="M600,240 C545,265 475,340 458,420 C454,455 468,480 492,490" class="b"/>
<!-- big gear -->
<g transform="rotate(15 915 590)"><ellipse cx="915" cy="590" rx="162" ry="205" class="n" stroke-width="30" stroke-dasharray="13 15" stroke-linecap="butt"/><ellipse cx="915" cy="590" rx="146" ry="188" class="w b"/></g>
<!-- web1 -->
<path d="M592,205 L640,160 L722,145 L775,168 L792,235 L742,290 L735,330 L722,420 L735,470 L760,500 L745,560 L700,640 L650,730 L560,720 C500,700 450,660 430,620 L430,578 L520,500 L565,522 L590,470 Z" class="w b"/>
<path d="M600,210 L605,600 L650,730 M430,578 L480,615 L600,560 M480,615 L482,660 M520,500 L560,600 M565,522 L575,590 M640,165 C618,200 622,300 650,385 M680,158 C660,200 665,300 690,400 L722,420 M722,148 C742,200 745,290 735,330 M650,385 C660,410 690,420 722,420 M612,250 C625,240 650,235 665,240 M610,330 C630,325 650,325 668,330" class="b"/>
<!-- web2 -->
<path d="M735,330 L800,245 L880,235 L935,290 L925,365 L880,400 L835,455 L795,520 L765,600 L748,660 L722,682 L650,730 L660,795 L700,830 C780,880 900,850 965,765 L940,700 L870,690 L800,560 L760,500 L735,470 L722,420 Z" class="w b"/>
<path d="M722,682 L750,760 L700,830 M750,760 C800,800 880,790 940,700 M800,245 C790,290 800,340 830,380 M760,345 C770,300 800,270 840,265 C890,262 920,300 915,345 M835,300 C860,290 890,310 890,345 C888,385 860,410 830,420 M850,330 C868,325 878,340 875,360 M780,380 L800,440 M760,500 L790,430 L835,455" class="b"/>
<!-- gear teeth visible over web2 (upper left arc & bottom) -->
<path d="M755,680 C745,600 770,500 830,430 C870,390 930,375 980,395" class="n" stroke-width="26" stroke-dasharray="12 14" stroke-linecap="butt"/>
<!-- output shaft -->
<path d="M905,520 L935,512 L1012,540 L1005,585 L1160,650 L1240,720 L1248,748 L1345,800 C1365,820 1350,890 1312,895 L1215,850 L1170,815 L1100,800 L960,722 L885,708 C852,650 865,545 905,520 Z" class="w b"/>
<path d="M935,512 C900,540 890,650 920,712 M1012,540 C985,570 975,670 1000,742 M1035,595 C1015,625 1010,710 1030,760 M1160,650 C1140,680 1140,760 1170,815 M1240,720 C1222,745 1222,810 1245,862 M1110,640 L1165,690 M1120,635 L1172,682" class="b"/>
<path d="M1240,770 L1320,845" class="n" stroke-width="88" stroke-dasharray="6 7" stroke-linecap="butt" stroke="#333"/>
<ellipse cx="1330" cy="848" rx="22" ry="48" transform="rotate(15 1330 848)" class="w b"/><ellipse cx="1332" cy="848" rx="10" ry="24" transform="rotate(15 1332 848)"/>
</g>
<g transform="translate(1220,560) scale(0.15727)" style="font-size:108.09px">
<g transform="rotate(20 975 1040)">
<ellipse cx="975" cy="1040" rx="182" ry="272" class="w b"/>
<ellipse cx="978" cy="1042" rx="130" ry="196" class="n" stroke-width="92" stroke-dasharray="9 21" stroke-linecap="butt" stroke="#222"/>
<ellipse cx="980" cy="1050" rx="84" ry="118" class="w b"/>
</g>
<path d="M830,722 C740,790 650,900 620,1020 C600,1100 610,1200 650,1252 L700,1292 L760,1305 M830,722 L840,700 L885,688 L920,700 L960,690 L1010,712 L1045,760 M885,688 L940,820 M920,700 L965,800 M830,722 L860,790 L940,820 M640,945 L700,930 L790,1010 L785,1035 L700,1020 L640,1000 Z M640,945 C620,960 615,985 640,1000 M700,1020 L735,1100 L760,1180 M735,1030 L770,1110 M690,1040 L660,1120 L650,1200 M680,1180 L720,1215 L700,1292 M660,1220 L700,1250" class="b"/>
<circle cx="668" cy="970" r="12" class="b"/><circle cx="875" cy="738" r="10" class="b"/>
<path d="M745,880 L772,835 M800,905 L828,860 M790,800 L818,760 M845,828 L872,786 M735,935 L755,905 M960,745 L1010,760 M975,725 L1020,742" class="n" stroke-width="20" stroke="#222"/>
<ellipse cx="718" cy="1125" rx="26" ry="18" stroke-width="3.5"/>
<path d="M975,1048 L1100,1115"/>
</g>
<g transform="translate(1080,820) scale(0.22280)" style="font-size:76.30px">
<path d="M180,395 L240,420 C320,400 380,370 420,335 C470,310 520,305 560,295 L580,290 L610,305 L650,280 L660,300 L655,335 L700,365 L790,420 C830,470 845,560 830,660 C810,780 700,960 490,1035 L445,1030 L280,965 L100,895 L95,760 L115,730 L245,775 L248,690 L160,640 L150,600 L120,550 L95,500 L150,445 L165,420 Z" class="w b"/>
<path d="M280,965 L285,640 C300,610 320,590 340,580 L620,410 C680,385 740,395 790,420 M300,975 L302,652 C315,625 335,605 355,595 L630,425 C690,400 745,410 792,436 M95,500 L120,510 L185,520 L245,470 L250,440 L240,420 M245,470 L285,640 M150,600 L248,640 M115,730 L105,760 L108,880 M115,730 L250,790 L280,800 M248,690 L280,700 M245,775 L280,790 M560,295 L585,325 L655,335 M420,335 C400,360 300,400 250,440 M580,290 L570,300 M110,520 C150,540 200,520 245,470" class="b"/>
<g transform="rotate(22 603 690)">
<ellipse cx="603" cy="690" rx="205" ry="298" class="b"/>
<ellipse cx="605" cy="690" rx="172" ry="248" class="b"/>
<ellipse cx="608" cy="690" rx="160" ry="232"/>
<ellipse cx="604" cy="690" rx="188" ry="272" class="n" stroke-width="14" stroke-dasharray="10 112" stroke-linecap="round"/>
</g>
<path d="M680,480 C670,580 600,760 520,830 M470,860 L540,805 L640,860 M520,840 L600,885 M540,660 L890,875"/>
<circle cx="180" cy="408" r="7" class="b"/><circle cx="645" cy="300" r="6"/><path d="M200,428 L212,440 L200,448 M170,452 L180,462" />
</g>
<g transform="translate(890,740) scale(0.15727)" style="font-size:108.09px">
<g transform="rotate(22 340 510)"><ellipse cx="340" cy="510" rx="245" ry="335" class="w b"/></g>
<g transform="rotate(22 420 490)"><ellipse cx="420" cy="490" rx="245" ry="335" class="w b"/><ellipse cx="408" cy="492" rx="228" ry="318"/></g>
<path d="M305,245 L300,195 L330,165 L480,150 L520,175 L515,215 L345,265 Z M300,195 L345,218 L345,265 M345,218 L515,175 M330,165 L370,185" class="w b"/>
<path d="M250,228 L305,245 M182,470 L230,380 L300,370 M285,395 L300,370 L320,395 M150,520 C150,620 190,720 250,775 M300,770 L320,790 L345,800 M640,245 C665,300 670,380 650,470 M575,235 L585,260 L600,240" class="b"/>
<path d="M355,520 L440,430 L505,410 L525,440 L500,520 L450,590 L390,580 Z M390,580 L395,540 L470,455 L525,440" class="w b"/>
<ellipse cx="458" cy="512" rx="40" ry="55" transform="rotate(22 458 512)" class="b"/><ellipse cx="462" cy="514" rx="24" ry="36" transform="rotate(22 462 514)"/>
<circle cx="380" cy="520" r="9"/><circle cx="505" cy="430" r="9"/><circle cx="432" cy="578" r="9"/><circle cx="380" cy="185" r="7"/><circle cx="295" cy="400" r="7"/>
<path d="M480,545 L545,575 M790,710 L1000,850 M1170,955 L1300,1030"/>
<g><ellipse cx="745" cy="740" rx="255" ry="350" transform="rotate(22 745 740)" class="w b"/>
<ellipse cx="730" cy="745" rx="255" ry="350" transform="rotate(22 730 745)" />
<path d="M899,816 Q924,830 917,930 L963,865 L920,792 M867,873 Q878,905 845,1005 L902,959 L892,858 M824,918 Q817,962 762,1051 L824,1028 L850,912 M773,946 Q749,995 677,1064 L737,1067 L798,951 M722,954 Q680,1000 599,1041 L651,1070 L742,968 M674,940 Q619,977 537,986 L576,1038 L688,963 M636,907 Q570,929 498,904 L519,973 L642,936 M611,858 Q541,860 486,804 L486,883 L608,890 M602,799 Q534,778 501,698 L481,777 L591,830 M610,735 Q550,692 543,596 L505,667 L592,762 M635,674 Q587,611 607,509 L555,566 L612,694 M673,622 Q641,544 686,448 L626,483 L647,633 M721,586 Q706,499 771,418 L709,428 L695,586 M773,568 Q776,479 854,424 L796,407 L750,558 M823,571 Q842,488 924,463 L878,422 L806,551 M867,594 Q898,524 975,532 L946,471 L857,567 M899,635 Q937,584 1002,624 L991,550 L897,604 M916,690 Q955,660 1000,729 L1010,649 L923,658 M916,753 Q951,745 971,835 L1000,758 L931,723" class="b"/>
<ellipse cx="760" cy="760" rx="140" ry="195" transform="rotate(22 760 760)" class="w b"/>
<ellipse cx="740" cy="762" rx="55" ry="90" transform="rotate(22 740 762)" class="b"/>
<circle cx="700" cy="705" r="9" class="b"/><circle cx="828" cy="695" r="9" class="b"/><circle cx="735" cy="822" r="9" class="b"/><path d="M775,705 L1000,850"/></g>
<path d="M1140,778 C1040,790 965,880 968,980 C970,1040 1000,1062 1030,1072 L1145,1160 C1240,1150 1335,1030 1335,920 C1335,850 1290,805 1230,810 Z" class="w b"/>
<ellipse cx="1200" cy="985" rx="130" ry="185" transform="rotate(22 1200 985)" class="b"/>
<path d="M1230,810 C1150,830 1085,920 1078,1010 C1072,1080 1100,1130 1145,1160 M1250,828 C1175,850 1110,930 1100,1010 C1095,1070 1115,1115 1150,1140 M1100,850 L1105,815 L1165,800 L1190,830 M1100,850 L1150,870 M1025,1000 L1030,1072 M1025,1000 L1075,1020 M1245,860 L1305,880 L1300,935 L1245,920 Z M1135,1085 L1180,1050 L1240,1080 L1200,1115 M1180,1050 L1185,1100 M1170,955 L1300,1030" class="b"/>
<ellipse cx="1345" cy="1072" rx="48" ry="55" transform="rotate(20 1345 1072)" class="w b"/><path d="M1340,1060 L1368,1045 L1395,1062 L1398,1095 L1372,1112 L1345,1098 Z" class="b" fill="#666"/><ellipse cx="1372" cy="1080" rx="12" ry="15" class="w"/><path d="M1400,1095 L1430,1110"/>
</g>
<g transform="translate(700,630) scale(0.13106)" style="font-size:129.71px">
<!-- cylinder fins behind flange -->
<path d="M640,545 C690,600 700,700 680,780 M655,540 C708,600 716,700 696,780 M685,540 C740,600 750,700 728,780 M700,540 C756,602 766,700 744,780 M730,548 C785,610 795,700 775,780 M746,552 C800,614 810,702 790,780 M775,570 C822,625 830,710 812,782 M620,560 L650,530 L760,545 L800,590" class="b"/>
<path d="M620,790 L1020,800 L1012,832 L620,830" class="b"/>
<!-- front flange -->
<path d="M210,310 C170,320 130,360 120,420 L55,880 C45,960 70,1040 130,1090 L400,1250 C450,1275 490,1260 520,1230 L600,1140 L620,800 L615,660 C600,590 540,500 450,420 C380,355 280,300 210,310 Z" class="w b"/>
<path d="M240,410 C210,415 185,445 180,480 L115,900 C110,960 130,1010 170,1035 L400,1165 C430,1180 470,1170 500,1140 L570,1050 L585,700 C570,630 520,560 450,500 C380,440 290,400 240,410 Z M230,330 C300,330 400,390 470,460 C540,530 590,600 600,660" class="b"/>
<ellipse cx="342" cy="792" rx="152" ry="208" transform="rotate(-4 342 792)" class="b"/><ellipse cx="344" cy="792" rx="133" ry="186" transform="rotate(-4 344 792)" class="b"/>
<circle cx="228" cy="485" r="18" class="b"/><circle cx="228" cy="485" r="9"/><circle cx="535" cy="655" r="18" class="b"/><circle cx="535" cy="655" r="9"/><circle cx="148" cy="970" r="18" class="b"/><circle cx="148" cy="970" r="9"/><circle cx="472" cy="1145" r="18" class="b"/><circle cx="472" cy="1145" r="9"/>
<path d="M200,990 L400,1085 C422,1100 422,1172 400,1192 L200,1092 C180,1078 180,1010 200,990 Z M200,1060 L370,1055 M215,1075 L340,1130" class="b"/>
<path d="M542,750 C560,750 562,770 562,790 L560,860 C558,885 545,890 535,885 C525,880 522,860 524,840 L526,775 C528,755 535,750 542,750 Z" class="b"/>
<path d="M555,930 C520,1000 510,1120 540,1240 M572,926 C538,1000 528,1115 558,1232 M600,922 C568,995 556,1105 584,1222 M616,920 C586,992 574,1100 600,1214 M645,920 C620,985 608,1090 630,1195 M660,922 C636,985 626,1085 646,1180 M540,1240 L600,1214 L646,1180 M555,930 L600,905 L660,922" class="w b"/>
<!-- top left plate -->
<path d="M465,395 L490,340 L520,330 L700,420 L715,450 L690,490 L640,470 L500,410 Z M490,340 L500,375 L680,455 L715,450 M500,375 L465,395 M600,560 L620,470 M500,410 L600,560 L615,660" class="w b"/>
<circle cx="555" cy="445" r="14" class="b"/><circle cx="635" cy="452" r="14" class="b"/><circle cx="480" cy="405" r="10" class="b"/>
<!-- top arm -->
<path d="M560,335 L690,270 L715,230 L742,245 L760,272 L860,235 L1000,60 L1040,45 L1075,60 L1080,110 L1002,220 L930,300 M830,220 L985,90 M880,268 L1010,122 M1000,60 C990,80 1000,100 1022,102 L1075,90 M575,350 L700,290 L730,300 L720,330 L740,300 M690,270 L720,300 M715,230 L705,280" class="b"/>
<ellipse cx="1025" cy="75" rx="22" ry="12" transform="rotate(-20 1025 75)" class="b"/>
<!-- top box -->
<path d="M720,440 L850,300 L880,290 L1100,390 L1130,420 L905,600 L900,760 M720,440 L880,600 L905,600 M880,600 L870,740 L900,760 M850,300 L855,240 L880,235 L880,290 M905,610 L1190,500 M740,460 L870,330 M760,480 L960,395 M870,330 L1080,420 M880,235 L960,290 L1100,340 L1110,390 M960,290 L950,320 M1000,300 L1060,310 L1100,340" class="b"/>
<path d="M890,485 L935,528 M945,455 L992,498 M952,650 L955,750 M1022,615 L1026,690 M1080,590 L1084,650 M1142,535 L1146,580" class="n" stroke-width="26" stroke="#1a1a1a"/>
<path d="M905,650 L1200,545 M930,640 L932,770 M980,625 L985,760 L1000,780 M1050,600 L1052,690 M1110,575 L1112,640 M870,740 L850,700 L820,690" class="b"/>
<circle cx="1035" cy="455" r="14" class="b"/><circle cx="805" cy="440" r="8" class="k"/><circle cx="720" cy="520" r="10" class="k"/>
<!-- right arm -->
<path d="M1110,390 L1180,370 L1420,300 L1480,290 L1500,320 L1495,390 L1420,410 L1380,440 L1420,490 L1300,470 L1180,470 L1130,500 M1180,370 L1200,400 L1400,340 L1420,300 M1200,400 L1180,470 M1060,490 C1120,460 1180,440 1240,450 L1420,490 M1070,512 C1130,482 1190,466 1240,476 L1400,502 M1240,450 L1300,400 M1300,470 L1200,590 M1320,475 L1225,590" class="b"/>
<ellipse cx="1445" cy="325" rx="25" ry="12" transform="rotate(-15 1445 325)" class="b"/><circle cx="1390" cy="432" r="9" class="k"/>
<!-- bearing boss -->
<ellipse cx="1150" cy="935" rx="135" ry="178" transform="rotate(12 1150 935)" class="w b"/>
<ellipse cx="1158" cy="932" rx="112" ry="152" transform="rotate(12 1158 932)" class="b"/>
<ellipse cx="1165" cy="930" rx="94" ry="130" transform="rotate(12 1165 930)" class="b"/>
<ellipse cx="1172" cy="926" rx="76" ry="110" transform="rotate(12 1172 926)" class="b"/>
<path d="M1110,880 L1385,1085 M1100,1010 C1130,1040 1180,1040 1215,1010"/>
<path d="M1240,640 L1290,600 L1340,620 L1370,660 L1350,700 L1340,800 L1365,850 L1340,900 L1300,930 L1272,1000 L1250,1020 M1280,800 L1340,812 L1340,880 L1292,930 Z M1300,820 L1320,870 M1150,615 C1140,625 1140,645 1155,655 L1225,690 L1245,660 L1170,612 Z M1240,640 L1260,700 L1250,760 M1290,600 L1300,680 M1330,1010 L1340,1050 L1300,1040 M1260,1020 L1340,1000 L1350,960" class="b"/>
<circle cx="1295" cy="700" r="22" class="b"/><circle cx="1300" cy="700" r="10" class="k"/><circle cx="1335" cy="855" r="12" class="b"/><circle cx="1235" cy="665" r="12" class="k"/><circle cx="1345" cy="690" r="10" class="k"/>
<!-- middle details -->
<path d="M680,880 L740,900 L760,960 L700,1000 L660,960 Z M740,900 L860,880 L900,930 L860,1000 L760,960 M800,850 L1010,860 M800,872 L1000,888 M700,1040 L800,1080 L820,1140 L720,1150 L680,1100 Z M800,1080 L900,1040 L1000,1060 M900,930 L1010,900 M860,1000 L1000,1010 M740,1000 L745,1040 M660,1160 L740,1180 L780,1140 M1010,860 L1040,900 M1000,1060 L1040,1080 L1240,1020" class="b"/>
<path d="M745,905 L755,955 M790,945 L800,1000 M760,1100 L775,1140 M880,935 L895,960" class="n" stroke-width="22" stroke="#1a1a1a"/>
<circle cx="700" cy="890" r="12" class="b"/><circle cx="890" cy="940" r="14" class="b"/><circle cx="770" cy="1130" r="9" class="k"/>
</g>
<g transform="translate(530,770) scale(0.13106)" style="font-size:129.71px">
<path d="M570,115 L880,255 L895,300" stroke-dasharray="24 3 2 3"/>
<!-- gasket 40 -->
<path d="M905,190 L930,170 L990,165 L1380,380 L1400,420 L1390,480 L1402,520 L1370,600 L1262,760 L1240,830 L1150,862 L1120,850 L1060,790 L940,700 L900,500 L920,340 L945,300 L940,240 Z" class="b" fill="#e2e2e2"/>
<ellipse cx="1092" cy="528" rx="165" ry="218" transform="rotate(-12 1092 528)" class="w b"/><ellipse cx="1092" cy="528" rx="148" ry="198" transform="rotate(-12 1092 528)"/>
<circle cx="995" cy="215" r="14" class="w b"/><circle cx="1355" cy="415" r="14" class="w b"/><circle cx="1195" cy="805" r="14" class="w b"/><ellipse cx="1325" cy="530" rx="15" ry="50" transform="rotate(15 1325 530)" class="w b"/>
<!-- head body -->
<path d="M470,350 L520,300 L560,230 L620,165 L840,270 L880,300 L890,370 L1060,470 L1078,530 L1090,600 L1070,700 L1030,740 L1140,800 L1130,850 L1085,870 L1040,900 L980,930 L940,960 L945,1050 L900,1100 L860,1100 L800,1090 L740,1040 L750,720 L600,560 Z" class="w b"/>
<path d="M600,180 L800,290 L840,360 L900,400 L1040,480 L1060,540 M590,200 L785,305 L825,375 L885,415 L1025,495 L1045,555 M580,220 L770,320 L810,390 L870,430 L1010,510 L1030,570 M610,170 L810,275 L850,345" class="b" stroke-width="2.6"/>
<path d="M560,230 L700,300 L690,420 L640,470 M520,300 L610,345 L620,420 M700,300 L720,290 M960,560 L1040,560 L1075,590 L1075,690 L1030,740 L1000,720 L1010,600 Z M985,590 L1045,600 L1045,680 L1010,700 M890,370 L870,560 L830,600 M940,480 L930,620 L880,650 M1040,750 L1130,800 M1060,770 L1140,815 M850,600 L880,610 L880,650 L850,680 L830,660 Z M750,720 L830,700 L960,690 L1000,720 M860,880 L870,950 L862,1040 L800,1090 M880,1060 L860,1100" class="b"/>
<circle cx="725" cy="485" r="52" class="b"/><circle cx="722" cy="488" r="24" fill="#333"/><path d="M760,440 C780,450 785,480 775,500" class="b"/>
<circle cx="555" cy="325" r="28" class="b"/><circle cx="553" cy="325" r="14"/><circle cx="905" cy="515" r="25" class="b"/><circle cx="905" cy="515" r="12"/>
<!-- exhaust flange -->
<path d="M800,800 L850,770 L960,790 L1060,830 L1085,870 L1040,900 L980,930 L880,900 L810,850 Z" class="w b"/>
<path d="M885,830 C890,805 920,800 950,808 L1000,830 C1010,850 1000,880 975,895 L905,880 C885,870 880,850 885,830 Z" class="b"/><circle cx="830" cy="830" r="12" class="b"/><circle cx="1050" cy="860" r="12" class="b"/>
<path d="M930,930 L885,1020" class="n" stroke-width="26" stroke-dasharray="5 5" stroke-linecap="butt"/>
<path d="M880,1030 L925,1015 C945,1020 950,1060 935,1075 L890,1092 C872,1085 870,1045 880,1030 Z" class="w b"/>
<!-- rocker box frame -->
<path d="M290,420 L330,385 L800,610 L820,660 L750,720 L740,1040 L700,1080 L640,1140 L590,1140 L570,1100 L210,890 L160,870 L150,840 L200,700 Z" class="w b"/>
<path d="M365,470 L725,645 L712,1005 L655,1062 L232,822 L245,760 Z" class="b"/>
<path d="M330,385 L345,360 L420,365 L470,350 M345,360 L360,400 M420,365 L440,420 M445,345 L600,430 L640,470 L800,550 L800,610 M470,350 L610,425 M215,480 L260,450 L290,420 M215,480 L200,520 L240,540 L270,470 M200,700 L180,690 L215,560 L240,540 M245,760 L740,990 M380,500 L290,670 L330,690 L420,520 M440,520 C400,580 390,700 420,780 M500,800 L720,900 M280,870 L640,720 M260,840 L600,700 M430,910 L460,880 L680,830 L690,860 L480,935 Z M690,700 L720,760 M600,740 L720,790" class="b"/>
<circle cx="512" cy="590" r="40" class="b"/><circle cx="512" cy="590" r="27" class="b"/><circle cx="512" cy="590" r="14"/><circle cx="662" cy="665" r="36" class="b"/><circle cx="662" cy="665" r="23" class="b"/><circle cx="662" cy="665" r="11"/>
<path d="M430,680 L500,665 C520,672 520,705 505,712 L435,725 M610,755 L680,742 L685,775 L615,790" class="b"/><circle cx="440" cy="702" r="20" class="b"/><circle cx="440" cy="702" r="9" class="k"/><circle cx="608" cy="772" r="18" class="b"/><circle cx="608" cy="772" r="8" class="k"/>
<circle cx="312" cy="432" r="12" class="b"/><circle cx="780" cy="650" r="12" class="b"/><circle cx="180" cy="878" r="12" class="b"/><circle cx="610" cy="1112" r="12" class="b"/>
<path d="M125,690 C115,700 118,730 135,738 L165,745 L180,700 L150,685 Z" class="b"/><circle cx="135" cy="715" r="14" stroke-width="3"/>
</g>
<g transform="translate(760,910) scale(0.13106)" style="font-size:129.71px">
<path d="M772,195 L772,285"/>
<!-- linkage -->
<path d="M495,205 L500,150 L520,110 L540,130 L545,205 M555,130 L575,90 L582,130 L560,165 M590,195 L586,240 M520,150 L525,200" class="b"/><ellipse cx="600" cy="185" rx="30" ry="13" transform="rotate(-10 600 185)" class="b"/>
<!-- top cap -->
<path d="M465,282 C470,250 510,235 550,240 L620,250 C650,270 656,300 650,332 M465,282 L470,302 L500,292 L560,302 L600,330 M500,292 L505,330 M560,302 L565,345 M600,280 L600,420 M620,290 L622,400 M575,300 L580,330" class="b"/>
<!-- left block -->
<path d="M350,415 L455,335 L500,350 L480,400 L385,470 L350,455 Z M350,455 L350,490 L385,505 L385,470 M385,505 L470,450 M400,540 L400,500 M350,490 L345,520 L400,545 L470,500 L470,450 M455,335 L470,302" class="b"/>
<!-- dial -->
<circle cx="530" cy="388" r="40" class="b"/><circle cx="530" cy="388" r="27" stroke-width="2.6"/><path d="M512,370 L548,406 M548,370 L512,406 M530,362 L530,414 M504,388 L556,388" class="b"/>
<path d="M570,330 L600,310 L640,330 L645,420 L600,450 L575,430 Z M585,345 L590,440 M610,330 L615,440" class="b"/>
<!-- center body -->
<path d="M470,450 L520,480 L610,520 L650,590 L642,622 M480,400 L470,450 M520,480 L560,440 L600,450 M610,520 L680,460 L700,400 M480,470 L520,500 L560,500 M650,330 L680,370" class="b"/>
<!-- right block -->
<path d="M680,370 L720,345 L760,335 L822,350 L826,396 L770,420 L700,400 Z M720,345 L725,385 L700,400 M725,385 L822,350 M752,295 C752,283 785,283 785,295 L785,340 M752,295 L752,338 M760,300 L780,300" class="b"/>
<!-- flange -->
<path d="M650,560 L700,480 L770,420 L850,400 L890,430 L905,490 L880,532 L830,590 L790,640 L720,650 L660,622 Z" class="w b"/>
<path d="M720,520 L790,462 L832,480 L826,540 L760,600 L716,590 Z M740,540 L800,490 M750,560 L815,505 M790,462 L795,490 M832,480 L800,500" class="b"/><circle cx="672" cy="555" r="12" class="b"/><circle cx="880" cy="505" r="12" class="b"/><circle cx="845" cy="440" r="10" class="b"/>
<!-- elbow -->
<path d="M500,545 C440,570 410,620 405,680 L410,770 C440,800 480,790 495,770 L500,690 C505,650 530,630 560,615 L590,640 L570,600 L560,560 Z" class="w b"/>
<path d="M450,570 C470,590 480,620 470,650" />
<!-- bowl -->
<path d="M520,660 C540,630 680,630 720,660 L800,650 L790,720 C780,760 740,790 700,800 L690,880 L620,905 L590,830 L560,820 L520,740 Z" class="w b"/>
<path d="M520,660 C540,692 680,692 720,660 M625,700 L625,890 M690,690 L690,880 M560,820 L560,750 M720,790 C750,780 775,750 785,720" class="b"/><circle cx="555" cy="760" r="10" class="k"/>
<path d="M600,960 L770,850 L782,870 L760,890 L620,985 M720,862 L720,830 M740,880 L745,860" class="b"/>
<!-- chamber -->
<path d="M330,790 C250,850 130,920 125,1000 C110,1100 180,1300 290,1400 L330,1420 C400,1440 470,1420 520,1390 C600,1320 640,1200 640,1120 C640,1050 612,960 590,900 L560,820 L500,770 L410,770 Z" class="w b"/>
<ellipse cx="292" cy="1180" rx="128" ry="185" transform="rotate(-15 292 1180)" class="b"/>
<path d="M170,960 C230,930 330,930 400,960 C480,1000 540,1100 560,1200 C570,1280 550,1350 520,1390 M190,975 C250,950 330,950 390,980 C460,1020 515,1110 535,1200 C545,1270 530,1330 505,1375 M590,900 C600,960 600,1000 620,1030 M300,1330 L310,1400 M420,1330 L430,1420" class="b"/>
<circle cx="270" cy="1172" r="24" class="w b"/><path d="M255,1150 C275,1140 302,1150 306,1175 L300,1200 C290,1210 270,1207 260,1197" class="b"/><path d="M285,1150 L300,1195" class="n" stroke-width="18" stroke-dasharray="4 4" stroke-linecap="butt"/>
<circle cx="155" cy="990" r="14" class="b"/><circle cx="500" cy="1180" r="14" class="b"/><circle cx="435" cy="1380" r="14" class="b"/>
<!-- fitting -->
<path d="M300,850 L340,820 L450,790 L470,830 L440,870 L370,900 L330,920 Z M340,820 L350,870 L330,920 M350,870 L450,830 M370,840 L380,890 M400,830 L410,880 M440,800 L500,810 M330,790 L360,770 L410,770" class="w b"/>
<!-- left flange, foot -->
<path d="M95,1180 L120,1155 L165,1165 L205,1230 L215,1300 L190,1330 L140,1320 L100,1260 Z" class="w b"/><ellipse cx="150" cy="1250" rx="28" ry="40" transform="rotate(-20 150 1250)" class="b"/><circle cx="110" cy="1190" r="9" class="b"/><circle cx="205" cy="1318" r="9" class="b"/>
<path d="M100,1410 L190,1350 L225,1360 L225,1400 L130,1460 L100,1445 Z M100,1410 L130,1425 L130,1460 M130,1425 L225,1360" class="w b"/>
<!-- bottom pipe -->
<path d="M420,1430 L500,1440 L510,1530 L420,1590 L340,1610 C315,1600 312,1555 335,1540 L420,1480 Z M420,1480 L425,1590" class="w b"/><ellipse cx="335" cy="1575" rx="16" ry="30" class="b"/>
</g>
<g transform="translate(225,330) scale(0.13106)" style="font-size:129.71px">
<!-- back ring -->
<path d="M700,170 L665,185 L640,215 C520,240 380,330 285,460 L245,510 L215,540 L210,600 L235,640 L200,660 L140,680 L125,710 L130,760 L165,790 L195,770 C185,850 200,950 240,1020 L245,1050 L285,1075 L300,1050" class="b"/>
<path d="M690,215 C560,250 430,340 330,470 L300,520 M700,245 C580,275 450,360 345,500 L310,560 M225,790 C220,860 235,960 275,1010 M250,790 C245,850 258,940 290,990 M235,640 L250,700 L195,770 M200,660 L230,720 M290,560 L320,545 L335,560 L310,592 Z M215,540 L290,560" class="b"/>
<circle cx="165" cy="750" r="12" class="b"/>
<path d="M310,955 L445,1030 M300,985 L440,1060 M305,1020 L430,1085 M320,1050 L420,1100 M310,955 L300,1050" class="b"/><circle cx="315" cy="1052" r="14" class="b"/>
<!-- top boss -->
<path d="M700,170 L730,195 L760,185 L815,145 L860,165 L885,200 L880,235 L850,260 L800,250 L760,225 M815,145 L830,180 L880,200 M830,180 L800,250 M730,195 L740,250" class="b"/><circle cx="718" cy="240" r="12" class="b"/>
<!-- drum top -->
<path d="M730,255 L1060,405 M850,260 L1075,395 M760,290 C850,320 930,370 970,410 M700,520 L930,430 M720,535 L960,440 M900,440 L915,455" class="b"/>
<!-- drum left curve -->
<path d="M600,600 C520,700 470,850 450,1040 L440,1100 M640,640 C560,740 510,880 490,1060" class="b"/>
<!-- front plate -->
<path d="M1060,405 L1085,395 L1145,430 L1150,560 L1145,700 L1165,740 L1200,770 L1205,810 L1180,850 L1140,900 L1175,930 L1180,960 L1150,1000 L1060,1160 L1020,1210 L560,1500 L530,1505 L470,1465 L450,1400 L450,1230 L410,1160 L415,1120 L455,1100 L480,1000 L520,850 L600,680 L680,600 L740,570 L1050,440 Z" class="b"/>
<path d="M1050,480 L1095,500 L1110,560 L1115,840 L1090,1000 L1010,1170 L990,1200 L560,1450 L520,1430 L500,1250 L475,1150 L510,1110 L560,900 L640,720 L700,650 L760,610 Z" class="b"/>
<!-- left boss block -->
<path d="M565,490 L600,450 L680,480 L700,520 L690,560 L660,640 L620,600 L580,570 Z M600,450 L640,510 L700,520 M640,510 L620,600" class="w b"/>
<!-- hub -->
<ellipse cx="865" cy="850" rx="125" ry="172" transform="rotate(15 865 850)" class="w b"/><ellipse cx="865" cy="850" rx="100" ry="142" transform="rotate(15 865 850)" class="b"/>
<path d="M780,780 C770,880 800,960 860,985 M800,760 C790,860 815,940 870,965 M890,720 C920,740 930,780 925,830" class="b"/>
<path d="M815,795 L1190,1020"/>
<!-- ribs -->
<path d="M870,560 L885,690 M905,555 L920,690 M1040,500 L960,690 M1050,560 L975,720 M740,635 L790,720 M760,625 L815,705 M635,850 L740,870 M640,880 L745,900 M990,840 L1110,780 M995,880 L1115,850 M980,920 L1090,990 M960,950 L1075,1030 M510,1110 L760,960 M530,1140 L780,990 M790,1010 L770,1330 M820,1020 L800,1320 M880,1010 L1000,1200 M910,1000 L1020,1180 M560,1450 L590,1380 L770,1330 L1000,1200 M590,1380 L600,1180 L700,1100 M800,1320 L820,1230 L990,1150 M700,650 L720,720 L860,660 M1095,500 L1050,560 M960,1030 L950,1100" class="b"/>
<circle cx="740" cy="632" r="10" class="b"/><circle cx="1068" cy="462" r="10" class="b"/><circle cx="1138" cy="745" r="10" class="b"/><circle cx="1120" cy="858" r="10" class="b"/><circle cx="1020" cy="1200" r="10" class="b"/><circle cx="542" cy="1478" r="10" class="b"/><circle cx="488" cy="1130" r="12" class="b"/><circle cx="635" cy="856" r="9" class="b"/><circle cx="850" cy="1140" r="18" class="b"/><circle cx="850" cy="1140" r="8"/><circle cx="1040" cy="1010" r="10" class="b"/>
<!-- lower-left boss -->
<ellipse cx="672" cy="1110" rx="30" ry="42" class="b"/><path d="M560,1080 L650,1060 L662,1100 L570,1132 M545,1105 L600,1095 M600,1140 L660,1150" class="b"/><path d="M600,1062 L640,1112" class="n" stroke-width="30" stroke-dasharray="5 5" stroke-linecap="butt"/>
<path d="M1125,920 L1160,935 L1175,960 L1150,1000 L1120,990" class="b"/>
</g>
<g transform="translate(235,550) scale(0.13106)" style="font-size:129.71px">
<path d="M115,480 C120,440 160,410 210,410 L600,370 L640,300 L665,295 L720,315 L770,340 L775,365 L740,400 L700,460 L690,520 L720,545 L760,570 L775,595 L740,625 L700,640 L640,620 L600,590 L320,610 L250,600 C180,590 130,550 115,480 Z" class="w b"/>
<ellipse cx="255" cy="530" rx="42" ry="60" transform="rotate(22 255 530)" stroke-width="2.6"/><ellipse cx="262" cy="532" rx="32" ry="48" transform="rotate(22 262 532)" class="b"/>
<path d="M330,490 L570,470 M335,565 L570,545 M330,490 C320,510 320,540 335,565 M570,470 C600,468 640,480 650,502 M570,545 L600,590 M570,470 L570,545 M700,460 C655,480 650,530 690,520 M640,300 L650,340 L680,355 L700,330 M665,295 L700,340 L740,355 M720,315 L745,355 L775,365 M600,370 L650,340 M690,520 L720,578 L700,640 M740,575 L745,620 M720,578 L760,570 M210,425 L590,388 M640,620 L660,585 L690,600" class="b"/>
<circle cx="610" cy="502" r="22" class="b"/><circle cx="612" cy="502" r="10"/><circle cx="150" cy="506" r="6" class="b"/>
<!-- cap -->
<path d="M790,275 L830,255 L900,245 L930,240 L965,260 L985,300 L990,380 C1020,420 1010,500 975,560 L960,600 L945,640 L900,650 L850,625 L800,600 L790,565 L810,530 C850,500 880,450 885,400 L880,370 L850,340 L800,310 Z" class="w b"/>
<path d="M830,255 L840,300 L800,310 M840,300 L905,330 L930,240 M905,330 L920,372 M930,380 C960,420 950,500 915,560 L900,650 M810,530 L850,560 L915,560 M850,560 L850,625 M960,280 L965,370 C990,410 985,490 955,550 M885,400 L920,372 L965,370 M810,590 L880,625 M805,290 L825,300 M812,318 L830,328" class="b"/><circle cx="845" cy="578" r="10" class="b"/>
<!-- dipper -->
<path d="M885,640 L905,955 L925,955 L945,640 M915,650 L915,950" class="b"/>
<!-- bolts -->
<path d="M1130,228 L1015,300 M1175,472 L1045,545" stroke-width="3.8"/><path d="M1130,228 L1080,259 M1175,472 L1120,503" stroke-width="1.3" stroke="#fff"/>
<path d="M1075,262 L1015,300 M1112,508 L1045,545" class="n" stroke-width="30" stroke-dasharray="5 4" stroke-linecap="butt"/>
<ellipse cx="1150" cy="218" rx="18" ry="34" transform="rotate(-30 1150 218)" class="w b"/><path d="M1140,192 L1170,180 L1198,200 L1200,232 L1175,250 L1150,240" class="w b"/><ellipse cx="1178" cy="212" rx="12" ry="16" />
<ellipse cx="1195" cy="460" rx="18" ry="34" transform="rotate(-30 1195 460)" class="w b"/><path d="M1185,434 L1215,422 L1243,442 L1245,474 L1220,492 L1195,482" class="w b"/><ellipse cx="1223" cy="454" rx="12" ry="16" />
</g>
<g transform="translate(1100,560) scale(0.15727)" style="font-size:108.09px">
<path d="M1005,1230 C1010,1195 1050,1170 1085,1180 L1100,1200 C1110,1175 1150,1165 1165,1190 C1170,1215 1150,1235 1120,1240 L1105,1290 L1110,1370 L1090,1400 L1030,1410 L1010,1390 Z" class="w b"/>
<path d="M1015,1250 L1050,1245 L1052,1275 L1018,1282 Z M1018,1300 L1050,1295 L1054,1340 L1022,1346 Z M1022,1362 L1054,1358 L1056,1392 L1026,1396 Z M1120,1240 C1110,1220 1112,1205 1125,1195" class="b"/>
<text x="0" y="0" transform="translate(1062,1272) rotate(80)" style="font-size:28px;font-weight:bold;text-anchor:start;letter-spacing:1px">START</text>
<!-- rope knot -->
<path d="M1200,1165 L1215,1160 L1225,1185 L1250,1180 C1270,1185 1275,1205 1260,1215 L1235,1222 L1220,1230 M1225,1185 L1215,1215 M1260,1195 C1320,1210 1360,1130 1420,1115 L1470,1125" class="b"/>
<path d="M1262,1190 C1320,1200 1355,1122 1418,1105" />
</g>
<g transform="translate(840,500) scale(0.15727)" style="font-size:108.09px">
<path d="M860,760 C835,780 825,810 830,840 L850,880 L870,860 L890,780 Z" class="w b"/><ellipse cx="860" cy="820" rx="8" ry="14" class="b"/>
<path d="M860,760 L920,770 L975,790 C1060,860 1110,980 1110,1100 C1110,1250 1060,1400 990,1530 L950,1600 M975,790 L990,832 C1060,900 1085,1000 1085,1100 C1085,1240 1040,1380 975,1500 L940,1570 M850,880 L840,892 L845,1080 L865,1110 L880,1230 L900,1272 L905,1330 L935,1342 L960,1320 C990,1250 1010,1150 1005,1060 C1000,980 985,900 960,855 L870,862 M865,1110 C900,1090 925,1060 930,1035 M900,1272 C935,1250 965,1290 972,1322 M905,1330 L895,1362 L890,1400 L920,1412 L925,1350 M890,1400 L885,1480 L915,1540 L950,1600 M1000,1450 L990,1530 M845,900 C880,940 900,1000 905,1080" class="b"/>
<ellipse cx="968" cy="1025" rx="10" ry="22" class="b"/>
</g>
<g transform="translate(480,960) scale(0.18349)" style="font-size:92.65px">
<path d="M555,880 C550,870 555,862 565,858 L810,800 C830,797 842,805 845,820 L848,1000 C848,1012 840,1020 828,1024 L580,1085 C565,1088 556,1080 555,1068 Z" class="b" stroke-width="2.2"/>
<path d="M570,885 L680,860 L680,866 C640,875 615,900 612,925 L572,935 Z M697,855 L822,822 L824,890 L772,902 C768,878 735,858 697,862 Z M573,990 L612,980 C622,1005 650,1010 682,1002 L684,1042 L578,1068 Z M698,998 C740,985 768,955 772,918 L825,905 L828,1002 L700,1036 Z" class="b"/>
<!-- nuts 26 -->
<ellipse cx="140" cy="1020" rx="56" ry="52" class="w b"/><path d="M100,1005 L125,985 L160,988 L178,1010 L170,1045 L140,1060 L108,1045 Z" class="b"/><ellipse cx="142" cy="1038" rx="22" ry="18" stroke-width="2.6"/>
<ellipse cx="435" cy="1020" rx="56" ry="52" class="w b"/><path d="M395,1005 L420,985 L455,988 L473,1010 L465,1045 L435,1060 L403,1045 Z" class="b"/><ellipse cx="437" cy="1038" rx="22" ry="18" stroke-width="2.6"/>
<path d="M150,1075 L150,1130"/>
</g>
<g transform="translate(40,530) scale(0.15727)" style="font-size:108.09px">
<ellipse cx="272" cy="572" rx="157" ry="190" class="b" stroke-width="2"/>
<ellipse cx="274" cy="572" rx="143" ry="177"/>
<ellipse cx="278" cy="572" rx="128" ry="163" class="b"/>
<path d="M420,385 C530,375 592,470 592,570 C592,680 520,765 400,750" stroke-width="2.6"/>
<path d="M440,400 C525,400 565,480 565,570 C565,660 510,735 420,738" class="b"/>
<path d="M335,440 C300,480 285,530 287,575 C290,630 310,680 350,712 M355,455 C325,495 315,535 317,575 C320,625 338,665 370,695" class="b"/>
<path d="M385,520 L385,440 M410,520 L410,420 M385,520 L410,520 M385,580 L385,700 M410,580 L410,690 M385,580 L410,580 M395,395 L420,388 L415,405" class="b"/>
</g>
</g>
</svg>
</body></html>
